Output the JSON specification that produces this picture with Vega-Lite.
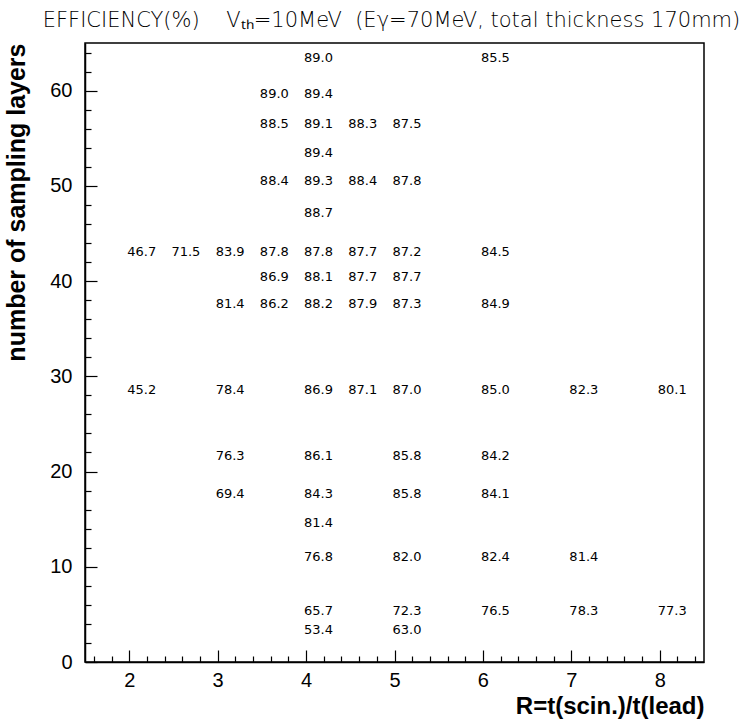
{
  "$schema": "https://vega.github.io/schema/vega-lite/v6.json",
  "width": 619,
  "height": 619,
  "autosize": "none",
  "padding": {"left": 85, "top": 43, "right": 45, "bottom": 60},
  "background": "white",
  "title": {
    "text": "EFFICIENCY(%)\u00a0\u00a0\u00a0\u00a0Vₜₕ=10MeV\u00a0\u00a0(Eγ=70MeV, total thickness 170mm)",
    "anchor": "middle",
    "font": "DejaVu Sans",
    "fontWeight": 200,
    "fontSize": 21,
    "color": "black",
    "offset": 12,
    "dx": -3
  },
  "config": {
    "view": {"stroke": "black", "strokeWidth": 1.5},
    "axis": {"grid": false, "domainColor": "black", "tickColor": "black", "labelColor": "black", "titleColor": "black", "domainWidth": 1.5, "tickWidth": 1.2}
  },
  "data": {
    "values": [
      {"R": 4, "N": 63.4, "eff": 89.0}, {"R": 6, "N": 63.4, "eff": 85.5},
      {"R": 3.5, "N": 59.6, "eff": 89.0}, {"R": 4, "N": 59.6, "eff": 89.4},
      {"R": 3.5, "N": 56.5, "eff": 88.5}, {"R": 4, "N": 56.5, "eff": 89.1}, {"R": 4.5, "N": 56.5, "eff": 88.3}, {"R": 5, "N": 56.5, "eff": 87.5},
      {"R": 4, "N": 53.5, "eff": 89.4},
      {"R": 3.5, "N": 50.5, "eff": 88.4}, {"R": 4, "N": 50.5, "eff": 89.3}, {"R": 4.5, "N": 50.5, "eff": 88.4}, {"R": 5, "N": 50.5, "eff": 87.8},
      {"R": 4, "N": 47.2, "eff": 88.7},
      {"R": 2, "N": 43.1, "eff": 46.7}, {"R": 2.5, "N": 43.1, "eff": 71.5}, {"R": 3, "N": 43.1, "eff": 83.9}, {"R": 3.5, "N": 43.1, "eff": 87.8}, {"R": 4, "N": 43.1, "eff": 87.8}, {"R": 4.5, "N": 43.1, "eff": 87.7}, {"R": 5, "N": 43.1, "eff": 87.2}, {"R": 6, "N": 43.1, "eff": 84.5},
      {"R": 3.5, "N": 40.45, "eff": 86.9}, {"R": 4, "N": 40.45, "eff": 88.1}, {"R": 4.5, "N": 40.45, "eff": 87.7}, {"R": 5, "N": 40.45, "eff": 87.7},
      {"R": 3, "N": 37.6, "eff": 81.4}, {"R": 3.5, "N": 37.6, "eff": 86.2}, {"R": 4, "N": 37.6, "eff": 88.2}, {"R": 4.5, "N": 37.6, "eff": 87.9}, {"R": 5, "N": 37.6, "eff": 87.3}, {"R": 6, "N": 37.6, "eff": 84.9},
      {"R": 2, "N": 28.6, "eff": 45.2}, {"R": 3, "N": 28.6, "eff": 78.4}, {"R": 4, "N": 28.6, "eff": 86.9}, {"R": 4.5, "N": 28.6, "eff": 87.1}, {"R": 5, "N": 28.6, "eff": 87.0}, {"R": 6, "N": 28.6, "eff": 85.0}, {"R": 7, "N": 28.6, "eff": 82.3}, {"R": 8, "N": 28.6, "eff": 80.1},
      {"R": 3, "N": 21.6, "eff": 76.3}, {"R": 4, "N": 21.6, "eff": 86.1}, {"R": 5, "N": 21.6, "eff": 85.8}, {"R": 6, "N": 21.6, "eff": 84.2},
      {"R": 3, "N": 17.6, "eff": 69.4}, {"R": 4, "N": 17.6, "eff": 84.3}, {"R": 5, "N": 17.6, "eff": 85.8}, {"R": 6, "N": 17.6, "eff": 84.1},
      {"R": 4, "N": 14.6, "eff": 81.4},
      {"R": 4, "N": 11.0, "eff": 76.8}, {"R": 5, "N": 11.0, "eff": 82.0}, {"R": 6, "N": 11.0, "eff": 82.4}, {"R": 7, "N": 11.0, "eff": 81.4},
      {"R": 4, "N": 5.4, "eff": 65.7}, {"R": 5, "N": 5.4, "eff": 72.3}, {"R": 6, "N": 5.4, "eff": 76.5}, {"R": 7, "N": 5.4, "eff": 78.3}, {"R": 8, "N": 5.4, "eff": 77.3},
      {"R": 4, "N": 3.4, "eff": 53.4}, {"R": 5, "N": 3.4, "eff": 63.0}
    ]
  },
  "layer": [
    {
      "mark": {"type": "text", "align": "left", "baseline": "middle", "font": "DejaVu Sans", "fontWeight": "normal", "fontSize": 13, "fill": "black", "dx": -2},
      "encoding": {
        "x": {"field": "R", "type": "quantitative", "scale": {"domain": [1.5, 8.5], "nice": false, "zero": false},
          "axis": {"orient": "bottom", "values": [2, 3, 4, 5, 6, 7, 8], "tickSize": -12, "labelPadding": 20, "labelFont": "Liberation Sans", "labelFontSize": 20, "labelFlush": false,
            "title": "R=t(scin.)/t(lead)", "titleAnchor": "end", "titleFont": "Liberation Sans", "titleFontWeight": "bold", "titleFontSize": 24, "titlePadding": 4}},
        "y": {"field": "N", "type": "quantitative", "scale": {"domain": [0, 65], "nice": false, "zero": true},
          "axis": {"orient": "left", "values": [0, 10, 20, 30, 40, 50, 60], "tickSize": -12, "labelPadding": 25, "labelFont": "Liberation Sans", "labelFontSize": 20, "labelFlush": false,
            "title": "number of sampling layers", "titleAnchor": "end", "titleFont": "Liberation Sans", "titleFontWeight": "bold", "titleFontSize": 25, "titlePadding": 20}},
        "text": {"field": "eff", "type": "quantitative", "format": ".1f"}
      }
    },
    {
      "mark": {"type": "point", "opacity": 0},
      "encoding": {
        "x": {"field": "R", "type": "quantitative",
          "axis": {"orient": "bottom", "values": [1.6, 1.8, 2.2, 2.4, 2.6, 2.8, 3.2, 3.4, 3.6, 3.8, 4.2, 4.4, 4.6, 4.8, 5.2, 5.4, 5.6, 5.8, 6.2, 6.4, 6.6, 6.8, 7.2, 7.4, 7.6, 7.8, 8.2, 8.4], "tickSize": -6, "labels": false, "domain": false, "title": null}},
        "y": {"field": "N", "type": "quantitative",
          "axis": {"orient": "left", "values": [2, 4, 6, 8, 12, 14, 16, 18, 22, 24, 26, 28, 32, 34, 36, 38, 42, 44, 46, 48, 52, 54, 56, 58, 62, 64], "tickSize": -6, "labels": false, "domain": false, "title": null}}
      }
    }
  ],
  "resolve": {"axis": {"x": "independent", "y": "independent"}}
}
